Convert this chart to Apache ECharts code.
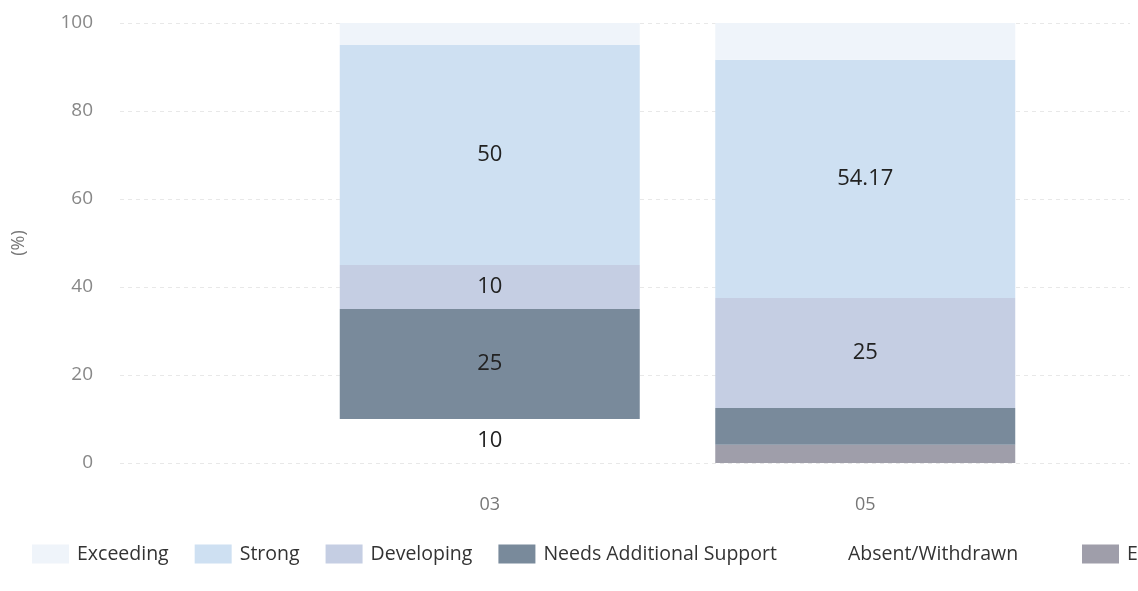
<!DOCTYPE html>
<html>
<head>
<meta charset="utf-8">
<script src="https://cdn.jsdelivr.net/npm/echarts@6/dist/echarts.min.js"></script>
<style>
  html, body { margin: 0; padding: 0; background: #ffffff; }
  #chart { width: 1138px; height: 591px; }
</style>
</head>
<body>
<div id="chart"></div>
<script>
// Assessment bands per group, percent of students (stacked bottom to top)
const categories = ['03', '05'];
const exempt = [0, 4.17];
const absentWithdrawn = [10, 0];
const needsSupport = [25, 8.33];
const developing = [10, 25];
const strong = [50, 54.17];
const exceeding = [5, 8.33];
const yTicks = [0, 20, 40, 60, 80, 100];

const FONT = 'Open Sans';

const bands = [
  { name: 'Exempt', data: exempt, color: '#9f9eaa' },
  { name: 'Absent/Withdrawn', data: absentWithdrawn, color: '#ffffff' },
  { name: 'Needs Additional Support', data: needsSupport, color: '#798a9b' },
  { name: 'Developing', data: developing, color: '#c5cee3' },
  { name: 'Strong', data: strong, color: '#cee0f2' },
  { name: 'Exceeding', data: exceeding, color: '#eff4fa' }
];

const legendNames = bands.map(b => b.name).reverse();

const legendStyle = {
  top: 539,
  width: 1400,
  icon: 'rect',
  itemWidth: 37,
  itemHeight: 19,
  itemGap: 26,
  textStyle: { fontFamily: FONT, fontSize: 19.5, color: '#333333', padding: [0, 0, 0, 3] }
};

const chart = echarts.init(document.getElementById('chart'), null, { renderer: 'canvas' });

const option = {
  animation: false,
  backgroundColor: '#ffffff',
  legend: [
    Object.assign({ left: 27, data: legendNames.slice(0, 5) }, legendStyle),
    Object.assign({ left: 1077, data: legendNames.slice(5) }, legendStyle)
  ],
  grid: [
    // wide grid carrying the value scale and its guide lines
    { left: 120, right: 8, top: 23, bottom: 128 },
    // grid holding the two bars
    { left: 302, right: 85, top: 23, bottom: 128 }
  ],
  xAxis: [
    { type: 'value', gridIndex: 0, show: false, min: 0, max: 1 },
    {
      type: 'category',
      gridIndex: 1,
      data: categories,
      axisLine: { show: false },
      axisTick: { show: false },
      axisLabel: { fontFamily: FONT, fontSize: 18, color: '#777777', margin: 33 }
    }
  ],
  yAxis: [
    {
      type: 'value',
      gridIndex: 0,
      min: yTicks[0],
      max: yTicks[yTicks.length - 1],
      interval: yTicks[1] - yTicks[0],
      name: '(%)',
      nameLocation: 'middle',
      nameRotate: 90,
      nameGap: 92,
      nameTextStyle: { fontFamily: FONT, fontSize: 18, color: '#777777' },
      axisLine: { show: false },
      axisTick: { show: false },
      axisLabel: { fontFamily: FONT, fontSize: 19, color: '#888888', margin: 27 },
      splitLine: { show: true, lineStyle: { color: '#e8e8e8', type: [4, 4], width: 1 } }
    },
    {
      type: 'value',
      gridIndex: 1,
      min: yTicks[0],
      max: yTicks[yTicks.length - 1],
      show: false
    }
  ],
  series: bands.map(b => ({
    name: b.name,
    type: 'bar',
    xAxisIndex: 1,
    yAxisIndex: 1,
    stack: 'total',
    data: b.data,
    barWidth: 300,
    itemStyle: { color: b.color },
    label: {
      show: true,
      position: 'inside',
      fontFamily: FONT,
      fontSize: 22,
      color: '#222222',
      formatter: p => (p.value >= 10 ? String(p.value) : '')
    }
  }))
};

chart.setOption(option);
</script>
</body>
</html>
